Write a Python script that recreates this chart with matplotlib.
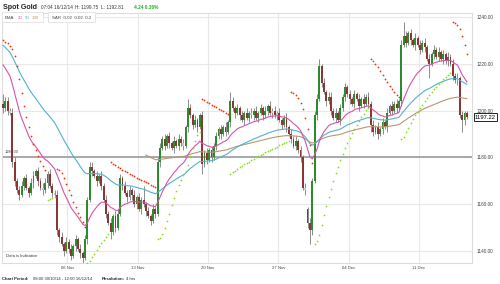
import numpy as np
import pandas as pd
import matplotlib.pyplot as plt
from matplotlib.patches import Rectangle
from matplotlib.transforms import blended_transform_factory

plt.rcParams['font.family'] = ['Liberation Sans', 'DejaVu Sans']

# 4 hr bars, 30/10/14 08:00 .. 16/12/14 08:00 (weekdays only)
closes = [
    1201, 1204, 1200, 1199, 1178, 1170, 1166, 1164, 1168, 1171,
    1167, 1165, 1169, 1172, 1174, 1170, 1167, 1166, 1169, 1173,
    1168, 1165, 1164, 1149, 1146, 1143, 1140, 1144, 1141, 1138,
    1142, 1145, 1141, 1139, 1137, 1145, 1162, 1176, 1174, 1172,
    1170, 1172, 1168, 1162, 1156, 1152, 1148, 1155, 1150, 1156,
    1171, 1168, 1165, 1163, 1166, 1164, 1160, 1163, 1158, 1162,
    1160, 1157, 1155, 1153, 1158, 1156, 1178, 1184, 1188, 1185,
    1189, 1186, 1184, 1187, 1185, 1188, 1186, 1185, 1193, 1201,
    1198, 1194, 1196, 1193, 1198, 1177, 1182, 1179, 1183, 1180,
    1185, 1189, 1192, 1190, 1193, 1191, 1195, 1204, 1201, 1199,
    1201, 1198, 1196, 1199, 1197, 1199, 1198, 1200, 1197, 1199,
    1201, 1198, 1200, 1202, 1199, 1200, 1198, 1199, 1196, 1194,
    1197, 1193, 1190, 1188, 1185, 1187, 1183, 1180, 1167, 1166,
    1152, 1149, 1170, 1198, 1205, 1219, 1212, 1208, 1204, 1206,
    1200, 1197, 1199, 1196, 1201, 1206, 1210, 1207, 1205, 1203,
    1207, 1205, 1202, 1205, 1203, 1206, 1203, 1194, 1191, 1193,
    1190, 1192, 1195, 1193, 1199, 1202, 1200, 1203, 1201, 1204,
    1228, 1232, 1229, 1233, 1230, 1228, 1231, 1228, 1226, 1229,
    1227, 1222, 1220, 1224, 1226, 1223, 1225, 1222, 1224, 1221,
    1223, 1220, 1215, 1213, 1214, 1198, 1196, 1199, 1197.22,
]

# wick above / below the body
wick_up = [
    4, 2, 2, 1, 2, 2, 1, 2, 2, 1,
    2, 1, 2, 2, 1, 2, 1, 2, 2, 1,
    2, 1, 1, 2, 1, 2, 1, 2, 1, 2,
    1, 2, 1, 2, 1, 2, 1, 2, 2, 1,
    2, 1, 2, 1, 2, 1, 2, 1, 2, 2,
    2, 1, 2, 1, 2, 1, 2, 1, 2, 1,
    6, 1, 2, 1, 2, 1, 2, 2, 1, 2,
    1, 2, 1, 2, 1, 2, 1, 2, 1, 4,
    2, 1, 2, 1, 1, 2, 1, 2, 1, 2,
    1, 2, 1, 2, 1, 2, 1, 4, 2, 1,
    2, 1, 2, 1, 2, 1, 2, 1, 2, 1,
    2, 1, 2, 1, 2, 1, 2, 1, 2, 1,
    1, 2, 1, 2, 1, 2, 1, 2, 1, 2,
    1, 2, 1, 2, 2, 3, 1, 2, 1, 2,
    2, 1, 2, 1, 2, 1, 2, 1, 2, 1,
    2, 1, 2, 1, 2, 1, 2, 1, 2, 1,
    2, 1, 2, 1, 2, 1, 2, 1, 2, 1,
    2, 6, 2, 1, 2, 1, 2, 1, 2, 1,
    2, 1, 2, 1, 2, 1, 2, 1, 2, 1,
    2, 1, 2, 1, 2, 1, 2, 1, 1,
]
wick_dn = [
    2, 1, 2, 1, 2, 2, 1, 2, 1, 2,
    1, 2, 1, 2, 1, 2, 1, 2, 1, 2,
    1, 2, 1, 2, 2, 1, 2, 1, 2, 2,
    1, 2, 1, 2, 2, 1, 2, 1, 2, 1,
    2, 1, 2, 1, 2, 1, 3, 1, 2, 1,
    1, 2, 1, 2, 1, 2, 1, 2, 1, 2,
    1, 2, 1, 2, 1, 2, 1, 2, 1, 2,
    1, 2, 1, 2, 1, 2, 1, 2, 1, 2,
    1, 2, 1, 2, 1, 4, 1, 2, 1, 2,
    1, 2, 1, 2, 1, 2, 1, 2, 1, 2,
    1, 2, 1, 2, 1, 2, 1, 2, 1, 2,
    1, 2, 1, 2, 1, 2, 1, 2, 1, 2,
    1, 2, 1, 2, 1, 2, 1, 2, 1, 2,
    2, 6, 2, 1, 2, 1, 2, 1, 2, 1,
    2, 1, 2, 1, 2, 1, 2, 1, 2, 1,
    2, 1, 2, 1, 2, 1, 2, 3, 2, 1,
    2, 1, 2, 1, 2, 1, 2, 1, 2, 1,
    2, 1, 2, 1, 2, 1, 2, 1, 2, 1,
    2, 1, 6, 1, 2, 1, 2, 1, 2, 1,
    2, 1, 2, 1, 2, 1, 5, 2, 1,
]

first_open = 1203
gap_bar, gap_open = 130, 1158       # Monday 01 Dec opened lower

# indicator start values (history before the chart window)
ema_seed = {20: 1221.5, 50: 1229.0, 100: 1181.5}
ema100_from = 61
sar_seed = 1230.0

# ---------------------------------------------------------------
times = pd.date_range('2014-10-30 08:00', '2014-12-16 08:00', freq='4h')
times = times[times.dayofweek < 5]

c = np.array(closes, dtype=float)
o = np.r_[first_open, c[:-1]]
o[gap_bar] = gap_open
hi = np.maximum(o, c) + np.array(wick_up)
lo = np.minimum(o, c) - np.array(wick_dn)
n = len(c)
x = np.arange(n)


def ema(vals, span, seed):
    k = 2.0 / (span + 1)
    out = np.zeros(len(vals))
    prev = seed
    for i, v in enumerate(vals):
        prev = prev + k * (v - prev)
        out[i] = prev
    return out


def psar(high, low, seed, af0=0.02, step=0.02, afmax=0.2):
    up = False
    af = af0
    ep = low[0]
    s = seed
    out = np.zeros(len(high))
    trend = np.zeros(len(high), dtype=bool)
    for i in range(len(high)):
        if i > 0:
            s = s + af * (ep - s)
            if up:
                s = min(s, low[i - 1], low[max(i - 2, 0)])
            else:
                s = max(s, high[i - 1], high[max(i - 2, 0)])
        if up and low[i] < s:
            up, s, ep, af = False, ep, low[i], af0
        elif not up and high[i] > s:
            up, s, ep, af = True, ep, high[i], af0
        else:
            if up and high[i] > ep:
                ep, af = high[i], min(af + step, afmax)
            if not up and low[i] < ep:
                ep, af = low[i], min(af + step, afmax)
        out[i] = s
        trend[i] = up
    return out, trend


e20 = ema(c, 20, ema_seed[20])
e50 = ema(c, 50, ema_seed[50])
e100 = ema(c[ema100_from:], 100, ema_seed[100])
sar, sar_up = psar(hi, lo, sar_seed)

fig = plt.figure(figsize=(5, 2.84), dpi=100)
ax = fig.add_axes([2 / 500, 1 - 263 / 284, 470 / 500, 250 / 284])

ax.axhline(1180, color='#a3a3a3', lw=1.3, zorder=1.5)

diff = c - o
cols = np.where(np.abs(diff) <= 1.5, '#c9c9c9',
                np.where(diff > 0, '#2d8a2d', '#8c3535'))
ax.vlines(x, lo, hi, color='#7a7a7a', lw=0.6, zorder=2)
ax.bar(x, np.maximum(np.abs(diff), 0.4), bottom=np.minimum(o, c),
       width=0.8, color=cols, edgecolor='none', zorder=3)

ax.plot(x[ema100_from:], e100, color='#b89672', lw=0.8, zorder=4)
ax.plot(x, e50, color='#4fb3c9', lw=0.8, zorder=4)
ax.plot(x, e20, color='#d654a8', lw=0.8, zorder=4)
ax.scatter(x[~sar_up], sar[~sar_up], s=1.6, color='#ff2a00', lw=0, zorder=5)
ax.scatter(x[sar_up], sar[sar_up], s=1.6, color='#84e01c', lw=0, zorder=5)

ax.set_xlim(-0.43, 200.2)
ax.set_ylim(1134.9, 1241.7)

day = times.normalize()
tick_days = pd.to_datetime(['2014-11-06', '2014-11-13', '2014-11-20',
                            '2014-11-27', '2014-12-04', '2014-12-11'])
tick_pos = [np.argmax(day == d) - 0.5 for d in tick_days]
ax.set_xticks(tick_pos)
ax.set_xticklabels([d.strftime('%d %b') for d in tick_days])
yt = np.arange(1140, 1241, 20)
ax.set_yticks(yt)
ax.set_yticklabels(['%.2f' % v for v in yt])
ax.yaxis.tick_right()
ax.tick_params(length=0, colors='#444444')
ax.tick_params(axis='y', labelsize=3.4, pad=3)
ax.tick_params(axis='x', labelsize=3.1, pad=2.5)
ax.grid(color='#e8e8e8', lw=0.8)
ax.set_axisbelow(True)
for sp in ax.spines.values():
    sp.set_color('#dcdcdc')
    sp.set_linewidth(0.8)

tr = blended_transform_factory(ax.transAxes, ax.transData)
ax.text(1.006, c[-1], '%.2f' % c[-1], transform=tr, fontsize=4.2, va='center',
        ha='left', bbox=dict(boxstyle='square,pad=0.2', fc='white', ec='black', lw=0.6))
ax.text(0.006, 1181.3, '1180.00', transform=tr, fontsize=2.8, color='#444444',
        va='bottom')
ax.text(0.008, 0.02, 'Data is Indicative', transform=ax.transAxes, fontsize=3.0,
        color='#333333', va='bottom')


def ft(xp, yp, s, **kw):
    fig.text(xp / 500, 1 - yp / 284, s, va='baseline', **kw)


def fbox(x0, y0, x1, y1):
    fig.patches.append(Rectangle((x0 / 500, 1 - y1 / 284), (x1 - x0) / 500,
                                 (y1 - y0) / 284, transform=fig.transFigure,
                                 fc='white', ec='#e0e0e0', lw=0.6, zorder=5))


ft(3, 9.3, 'Spot Gold', fontsize=5.1, fontweight='bold', color='#222222')
ft(41, 9, '07:04 16/12/14', fontsize=3.4, color='#333333')
ft(75, 9, 'H: 1199.75  L: 1192.81', fontsize=3.4, color='#333333')
ft(134, 9, '4.24 0.36%', fontsize=3.4, color='#22aa22', fontweight='bold')

fbox(2, 12.5, 43, 22)
fbox(48, 12.5, 95, 22)
ft(5, 19.2, 'EMA', fontsize=3.2, color='#444444', zorder=6)
ft(18, 19.2, '20', fontsize=3.2, color='#d654a8', zorder=6)
ft(25, 19.2, '50', fontsize=3.2, color='#4fb3c9', zorder=6)
ft(32, 19.2, '100', fontsize=3.2, color='#b89672', zorder=6)
ft(52, 19.2, 'SAR  0.02  0.02  0.2', fontsize=3.2, color='#444444', zorder=6)

ft(2, 280, 'Chart Period:', fontsize=3.1, fontweight='bold', color='#222222')
ft(33, 280, '08:00 30/10/14 - 12:00 16/12/14', fontsize=3.1, color='#333333')
ft(102, 280, 'Resolution:', fontsize=3.1, fontweight='bold', color='#222222')
ft(126, 280, '4 hrs', fontsize=3.1, color='#333333')

fig.savefig('out.png', dpi=100, facecolor='white')
